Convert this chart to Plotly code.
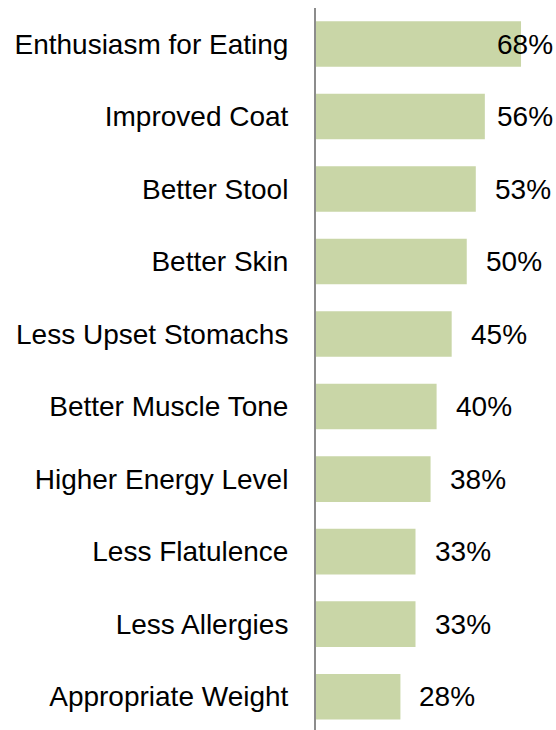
import plotly.graph_objects as go

# Reported benefits, listed top to bottom
categories = [
    "Enthusiasm for Eating",
    "Improved Coat",
    "Better Stool",
    "Better Skin",
    "Less Upset Stomachs",
    "Better Muscle Tone",
    "Higher Energy Level",
    "Less Flatulence",
    "Less Allergies",
    "Appropriate Weight",
]
percent = [68, 56, 53, 50, 45, 40, 38, 33, 33, 28]
value_labels = ["68%", "56%", "53%", "50%", "45%", "40%", "38%", "33%", "33%", "28%"]

W, H = 556, 730
M_L, M_R, M_T, M_B = 316, 0, 8, 0
X_MAX = 79.6
FONT = "Liberation Sans, Arial, sans-serif"
FONT_SIZE = 28
LABEL_GAP = 17      # px between bar end and its label
LABEL_WIDTH = 57    # approx px width of a "NN%" label

px_per_unit = (W - M_L - M_R) / X_MAX

fig = go.Figure(
    go.Bar(
        x=percent,
        y=categories,
        orientation="h",
        marker=dict(color="#C9D6A7", line=dict(width=0)),
        hoverinfo="skip",
    )
)

# Value labels sit just past the bar end, pulled back inside the plot when too wide
for cat, val, lab in zip(categories, percent, value_labels):
    fits = val * px_per_unit + LABEL_GAP + LABEL_WIDTH <= (W - M_L - M_R)
    if fits:
        fig.add_annotation(x=val, y=cat, text=lab, showarrow=False,
                           xanchor="left", xshift=LABEL_GAP,
                           font=dict(family=FONT, size=FONT_SIZE, color="black"))
    else:
        fig.add_annotation(x=X_MAX, y=cat, text=lab, showarrow=False,
                           xanchor="right", xshift=-1,
                           font=dict(family=FONT, size=FONT_SIZE, color="black"))

fig.update_layout(
    width=W,
    height=H,
    margin=dict(l=M_L, r=M_R, t=M_T, b=M_B, pad=0),
    paper_bgcolor="white",
    plot_bgcolor="white",
    bargap=0.372,
    showlegend=False,
    font=dict(family=FONT, size=FONT_SIZE, color="black"),
    xaxis=dict(range=[0, X_MAX], visible=False, fixedrange=True),
    yaxis=dict(
        categoryorder="array",
        categoryarray=categories,
        range=[9.46, -0.497],
        showline=True,
        linecolor="#8C8C8C",
        linewidth=2,
        showgrid=False,
        zeroline=False,
        ticks="",
        ticklabelstandoff=20,
        tickfont=dict(family=FONT, size=FONT_SIZE, color="black"),
        fixedrange=True,
    ),
)

fig.write_html("out.html")
